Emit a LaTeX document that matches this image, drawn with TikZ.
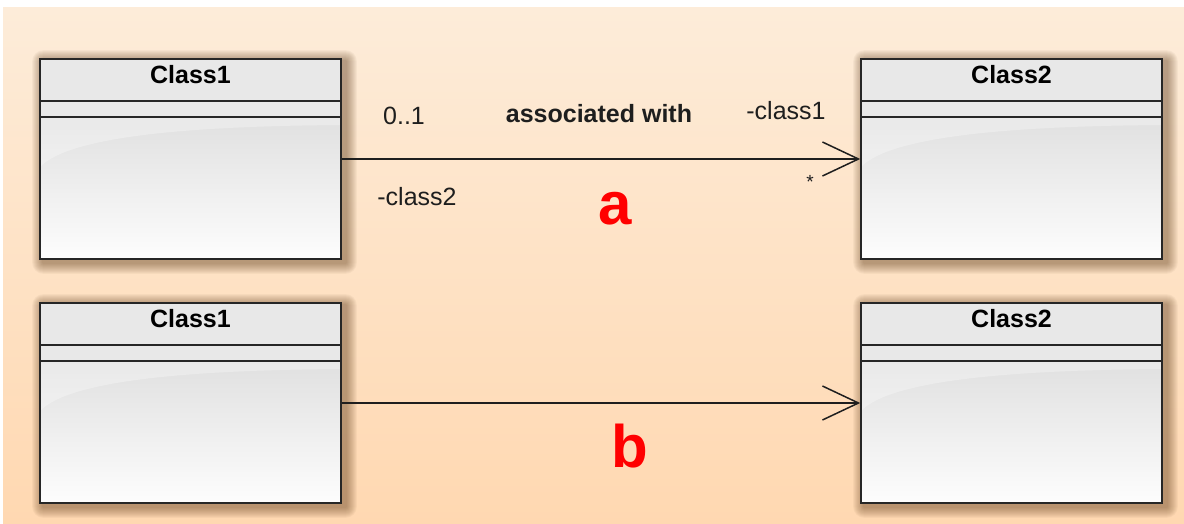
\documentclass[tikz,border=0pt]{standalone}
\usepackage{fontspec}
\setmainfont{Liberation Sans}
\usetikzlibrary{arrows.meta,calc,backgrounds}

\definecolor{bgtop}{RGB}{253,236,217}
\definecolor{bgbot}{RGB}{255,216,177}
\definecolor{headgray}{RGB}{232,232,232}
\definecolor{bodytop}{RGB}{224,224,224}
\definecolor{bodybot}{RGB}{253,253,253}
\definecolor{edge}{RGB}{38,38,38}
\definecolor{inkcol}{RGB}{30,30,30}
\definecolor{tagred}{RGB}{255,0,0}
\definecolor{shadowcol}{RGB}{80,45,10}

\tikzset{
  x=1pt, y=-1pt,
  classbox/.style={
    rectangle, minimum width=301pt, minimum height=200pt, inner sep=0pt,
    draw=edge, line width=1.6pt,
    path picture={
      \coordinate (ppnw) at (path picture bounding box.north west);
      \coordinate (ppne) at (path picture bounding box.north east);
      \coordinate (ppse) at (path picture bounding box.south east);
      % body with a light vertical gradient
      \shade[top color=bodytop, bottom color=bodybot]
        ($(ppnw)+(0pt,-58pt)$) rectangle (ppse);
      % header compartment
      \fill[headgray] (ppnw) rectangle ($(ppne)+(0pt,-58pt)$);
      % glossy highlight at the top of the body
      \fill[white,opacity=0.3] ($(ppnw)+(0pt,-58pt)$) -- ($(ppne)+(0pt,-58pt)$)
        -- ($(ppne)+(0pt,-66pt)$)
        .. controls ($(ppnw)+(160pt,-67pt)$) and ($(ppnw)+(30pt,-76pt)$)
        .. ($(ppnw)+(0pt,-108pt)$) -- cycle;
      % compartment separators
      \draw[edge,line width=1.6pt] ($(ppnw)+(0pt,-42pt)$) -- ($(ppne)+(0pt,-42pt)$);
      \draw[edge,line width=1.6pt] ($(ppnw)+(0pt,-58pt)$) -- ($(ppne)+(0pt,-58pt)$);
    }
  },
  softshadow/.style={fill=shadowcol, opacity=0.045},
  classname/.style={anchor=base, inner sep=0pt, text=black,
    font=\fontsize{25pt}{30pt}\selectfont\bfseries},
  rolelabel/.style={anchor=base, inner sep=0pt, text=inkcol,
    font=\fontsize{25pt}{30pt}\selectfont},
  assoclabel/.style={anchor=base, inner sep=0pt, text=inkcol,
    font=\fontsize{25pt}{30pt}\selectfont\bfseries},
  startag/.style={anchor=base, inner sep=0pt, text=inkcol,
    font=\fontsize{19pt}{22pt}\selectfont},
  bigtag/.style={anchor=base, inner sep=0pt, text=tagred,
    font=\fontsize{60pt}{70pt}\selectfont\bfseries},
  conn/.style={draw=inkcol, line width=1.5pt,
    -{Straight Barb[length=36pt,width=34pt]}},
}

\begin{document}
\begin{tikzpicture}
  \useasboundingbox (0,0) rectangle (1184,524);

  % classes
  \node[classbox] (c1a) at (190.5,159) {};
  \node[classbox] (c2a) at (1011.5,159) {};
  \node[classbox] (c1b) at (190.5,403) {};
  \node[classbox] (c2b) at (1011.5,403) {};

  \node[classname] (n1a) at ([yshift=-25pt]c1a.north) {Class1};
  \node[classname] (n2a) at ([yshift=-25pt]c2a.north) {Class2};
  \node[classname] (n1b) at ([yshift=-25pt]c1b.north) {Class1};
  \node[classname] (n2b) at ([yshift=-25pt]c2b.north) {Class2};

  % canvas and soft drop shadows behind the classes
  \begin{scope}[on background layer]
    \fill[white] (0,0) rectangle (1184,524);
    \shade[top color=bgtop, bottom color=bgbot] (3,8) rectangle (1184,524);
    \foreach \b in {c1a,c2a,c1b,c2b}{
      \foreach \r in {1,...,11}{
        \fill[softshadow, rounded corners=\r pt]
          ($(\b.north west)+(4pt-\r pt,-3pt+\r pt)$) rectangle
          ($(\b.south east)+(4pt+\r pt,-3pt-\r pt)$);
      }
    }
  \end{scope}

  % associations
  \draw[conn] (c1a) -- (c2a);
  \draw[conn] (c1b) -- (c2b);

  % association adornments
  \node[rolelabel] (mult1) at (404,125) {0..1};
  \node[assoclabel] (aname) at (599,123) {associated with};
  \node[rolelabel] (role1) at (786,120) {-class1};
  \node[startag] (mult2) at (810,189) {*};
  \node[rolelabel] (role2) at (417,205) {-class2};

  \node[bigtag] (taga) at (615,225) {a};
  \node[bigtag] (tagb) at (630,467) {b};
\end{tikzpicture}
\end{document}
